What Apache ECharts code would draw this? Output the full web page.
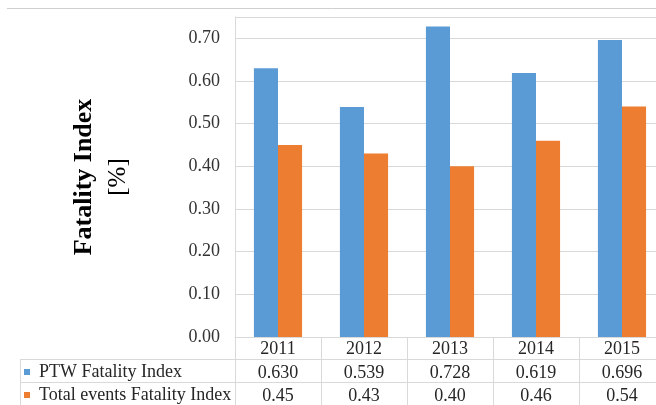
<!DOCTYPE html>
<html>
<head>
<meta charset="utf-8">
<script src="https://cdn.jsdelivr.net/npm/echarts@6/dist/echarts.min.js"></script>
<style>
  html, body { margin: 0; padding: 0; background: #fff; }
  #main { width: 656px; height: 405px; }
</style>
</head>
<body>
<div id="main"></div>
<script>
// данные
const years = ['2011', '2012', '2013', '2014', '2015'];
const ptwIndex = [0.630, 0.539, 0.728, 0.619, 0.696];
const totalIndex = [0.45, 0.43, 0.40, 0.46, 0.54];
const seriesNames = ['PTW Fatality Index', 'Total events Fatality Index'];

const FONT = 'Liberation Serif';
const GRID_COLOR = '#d9d9d9';
const TEXT_COLOR = '#262626';

const chart = echarts.init(document.getElementById('main'));

// строки таблицы под осью — отдельные категориальные оси
function tableAxis(values, offset) {
    return {
        type: 'category',
        data: values,
        position: 'bottom',
        offset: offset,
        axisLine: { show: true, lineStyle: { color: GRID_COLOR, width: 1 } },
        axisTick: { show: false },
        axisLabel: { interval: 0, margin: 5, fontFamily: FONT, fontSize: 18, color: TEXT_COLOR },
        splitLine: { show: false }
    };
}

const option = {
    backgroundColor: '#fff',
    animation: false,
    // область графика выходит за правый край кадра, как в исходнике
    grid: { left: 235, width: 430, top: 17, bottom: 68, outerBoundsMode: 'none', containLabel: false },
    legend: {
        orient: 'vertical',
        left: 24,
        top: 363,
        height: 60,
        padding: 0,
        itemWidth: 6,
        itemHeight: 6,
        itemGap: 5,
        icon: 'rect',
        selectedMode: false,
        data: seriesNames,
        textStyle: { fontFamily: FONT, fontSize: 18, lineHeight: 18, color: TEXT_COLOR, padding: [0, 0, 0, 4] }
    },
    xAxis: [
        {
            type: 'category',
            data: years,
            axisLine: { show: true, lineStyle: { color: GRID_COLOR, width: 1 } },
            axisTick: { show: true, length: 70, interval: 0, lineStyle: { color: GRID_COLOR } },
            axisLabel: { interval: 0, margin: 3, fontFamily: FONT, fontSize: 18, color: TEXT_COLOR },
            splitLine: { show: false }
        },
        tableAxis(ptwIndex.map(v => v.toFixed(3)), 22),
        tableAxis(totalIndex.map(v => v.toFixed(2)), 45)
    ],
    yAxis: {
        type: 'value',
        min: 0,
        max: 0.75,
        interval: 0.1,
        name: '{a|Fatality Index}\n{b|[%]}',
        nameLocation: 'middle',
        nameRotate: 90,
        nameGap: 100,
        nameTextStyle: {
            rich: {
                a: { fontFamily: FONT, fontSize: 26, fontWeight: 'bold', color: '#000', lineHeight: 34 },
                b: { fontFamily: FONT, fontSize: 25, color: '#000', lineHeight: 34 }
            }
        },
        axisLine: { show: true, lineStyle: { color: GRID_COLOR, width: 1 } },
        axisTick: { show: false },
        axisLabel: {
            margin: 15,
            fontFamily: FONT,
            fontSize: 18,
            color: '#333',
            formatter: v => (v > 0.705 ? '' : v.toFixed(2))
        },
        splitLine: { show: true, lineStyle: { color: GRID_COLOR, width: 1 } }
    },
    series: [
        {
            name: seriesNames[0],
            type: 'bar',
            data: ptwIndex,
            barWidth: '28%',
            barGap: '0%',
            itemStyle: { color: '#5B9BD5' }
        },
        {
            name: seriesNames[1],
            type: 'bar',
            data: totalIndex,
            barWidth: '28%',
            itemStyle: { color: '#ED7D31' }
        }
    ],
    graphic: [
        // рамка области диаграммы сверху
        { type: 'line', shape: { x1: 7, y1: 8.5, x2: 656, y2: 8.5 }, style: { stroke: '#cfcfcf', lineWidth: 1 } },
        // продолжение строк таблицы влево, под легендой
        { type: 'line', shape: { x1: 20, y1: 359.5, x2: 235, y2: 359.5 }, style: { stroke: GRID_COLOR, lineWidth: 1 } },
        { type: 'line', shape: { x1: 20, y1: 382.5, x2: 235, y2: 382.5 }, style: { stroke: GRID_COLOR, lineWidth: 1 } },
        { type: 'line', shape: { x1: 20.5, y1: 359, x2: 20.5, y2: 405 }, style: { stroke: GRID_COLOR, lineWidth: 1 } }
    ]
};

chart.setOption(option);
</script>
</body>
</html>
